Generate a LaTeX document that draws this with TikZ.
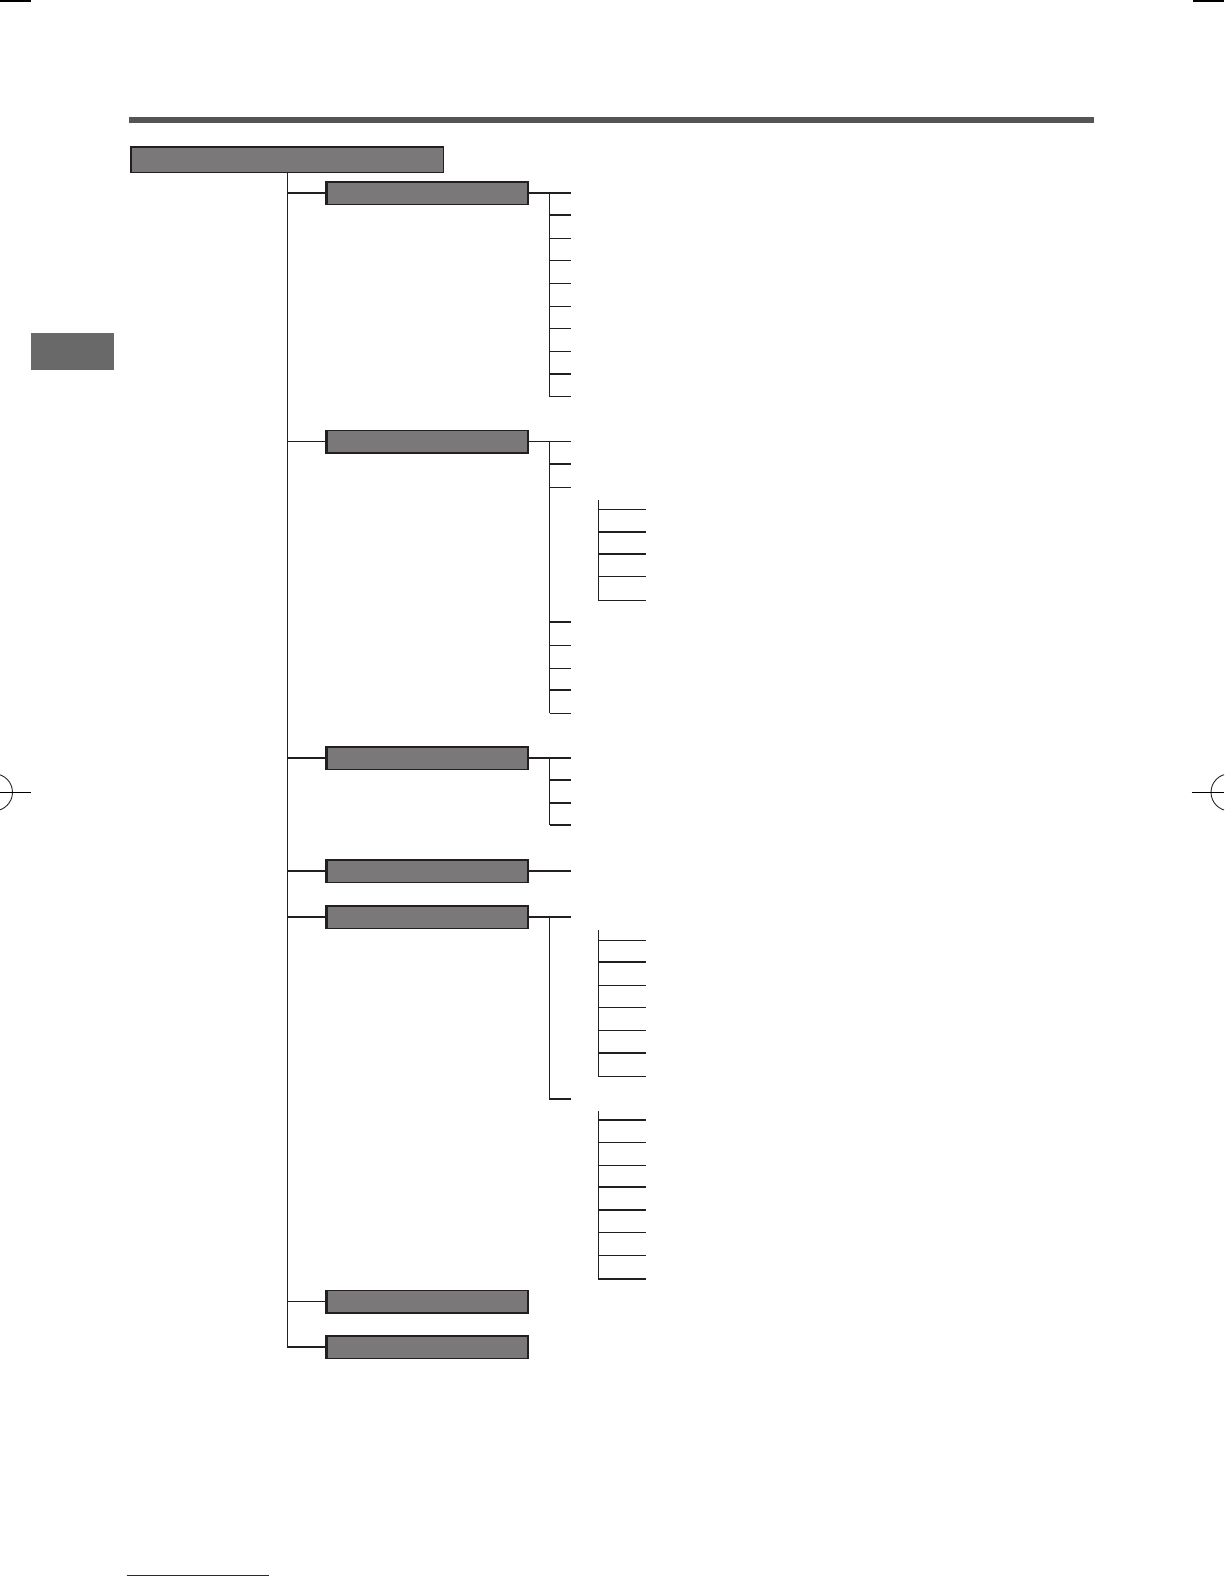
\documentclass[tikz,border=0pt]{standalone}
\definecolor{boxfill}{RGB}{122,120,121}
\definecolor{boxline}{RGB}{35,31,32}
\definecolor{barcol}{RGB}{85,85,85}
\definecolor{tabcol}{RGB}{105,105,105}
\definecolor{linkblue}{RGB}{30,30,140}
\begin{document}
\begin{tikzpicture}[x=1pt,y=-1pt,
  box/.style={draw=boxline, fill=boxfill, line width=1.5pt, minimum width=202pt, minimum height=22.5pt, inner sep=0pt, outer sep=0pt},
  conn/.style={draw=boxline, line width=1.2pt},
  heavy/.style={draw=boxline, line width=2.3pt},
  leftedge/.style={draw=boxline, line width=2.2pt},
  regmark/.style={draw=black!85, line width=0.9pt}]
\useasboundingbox (0,0) rectangle (1224,1584);
\clip (0,0) rectangle (1224,1584);

% header bar and side tab
\node[fill=barcol, minimum width=965pt, minimum height=6pt, inner sep=0pt] (topbar) at (611.5,120) {};
\node[fill=tabcol, minimum width=82.7pt, minimum height=36.7pt, inner sep=0pt] (tab) at (72.3,351.6) {};

% root box
\node[box, minimum width=313pt, minimum height=25.5pt] (main) at (287.2,159.9) {};

% level-1 boxes
\node[box] (b1) at (427,193) {};
\node[box] (b2) at (427,441.5) {};
\node[box] (b3) at (427,758) {};
\node[box] (b4) at (427,871) {};
\node[box] (b5) at (427,917) {};
\node[box] (b6) at (427,1301.5) {};
\node[box] (b7) at (427,1347) {};

% thick left edges
\foreach \n in {main,b1,b2,b3,b4,b5,b6,b7}
  \draw[leftedge] ([xshift=0.5pt]\n.north west) -- ([xshift=0.5pt]\n.south west);

% trunk
\draw[conn] (main.south) -- (main.south |- b7.west) -- (b7.west);
\foreach \n in {b1,b2,b3,b4,b5,b6}
  \draw[conn] (main.south |- \n.west) -- (\n.west);

% box 1 leaves
\foreach \y [count=\i] in {193,215,238.3,260.3,283.7,306.3,328.3,351.3,373.7,396.7} {
  \coordinate (p1-\i) at (549.7,\y);
  \coordinate (q1-\i) at (570.7,\y);
}
\foreach \i in {2,...,8,10} \draw[conn] (p1-\i) -- (q1-\i);
\draw[heavy] (p1-9) -- (q1-9);
\draw[conn] (b1.east) -- (q1-1);
\draw[conn] (p1-1) -- (p1-10);

% box 2 leaves
\foreach \y [count=\i] in {441.5,464,487.3,622,645.3,668.3,690,713.3} {
  \coordinate (p2-\i) at (549.7,\y);
  \coordinate (q2-\i) at (570.7,\y);
}
\foreach \i in {2,...,8} \draw[conn] (p2-\i) -- (q2-\i);
\draw[conn] (b2.east) -- (q2-1);
\draw[conn] (p2-1) -- (p2-8);

% box 2 sub-group
\coordinate (s1top) at (598.3,500);
\foreach \y [count=\i] in {509.3,531.7,554,576.7,600.3} {
  \coordinate (r1-\i) at (598.3,\y);
  \coordinate (t1-\i) at (646,\y);
}
\foreach \i in {1,3,4,5} \draw[conn] (r1-\i) -- (t1-\i);
\draw[heavy] (r1-2) -- (t1-2);
\draw[conn] (s1top) -- (r1-5);

% box 3 leaves
\foreach \y [count=\i] in {758,780,803,825} {
  \coordinate (p3-\i) at (549.7,\y);
  \coordinate (q3-\i) at (570.7,\y);
}
\foreach \i in {2,3,4} \draw[conn] (p3-\i) -- (q3-\i);
\draw[conn] (b3.east) -- (q3-1);
\draw[conn] (p3-1) -- (p3-4);

% box 4 leaf
\coordinate (q4-1) at (570.7,871);
\draw[conn] (b4.east) -- (q4-1);

% box 5 leaves
\coordinate (p5-1) at (549.7,917);
\coordinate (q5-1) at (570.7,917);
\coordinate (p5-2) at (549.7,1098.7);
\coordinate (q5-2) at (570.7,1098.7);
\draw[conn] (b5.east) -- (q5-1);
\draw[conn] (p5-1) -- (p5-2);
\draw[heavy] ([xshift=-0.6pt]p5-2) -- (q5-2);

% box 5 sub-group A
\coordinate (s2top) at (598.3,930);
\foreach \y [count=\i] in {940.7,962,985.3,1007.3,1030.7,1052.7,1076.7} {
  \coordinate (r2-\i) at (598.3,\y);
  \coordinate (t2-\i) at (646,\y);
}
\foreach \i in {1,...,5,7} \draw[conn] (r2-\i) -- (t2-\i);
\draw[heavy] (r2-6) -- (t2-6);
\draw[conn] (s2top) -- (r2-7);

% box 5 sub-group B
\coordinate (s3top) at (598.3,1110.7);
\foreach \y [count=\i] in {1120,1142.7,1165.3,1187.3,1210,1232.7,1255.3,1278.7} {
  \coordinate (r3-\i) at (598.3,\y);
  \coordinate (t3-\i) at (646,\y);
}
\foreach \i in {1,2,3,5,6,7} \draw[conn] (r3-\i) -- (t3-\i);
\draw[heavy] (r3-4) -- (t3-4);
\draw[heavy] ([xshift=-0.6pt]r3-8) -- (t3-8);
\draw[conn] (s3top) -- (r3-8);

% crop and registration marks
\coordinate (cm1a) at (0,1);
\coordinate (cm1b) at (31,1);
\coordinate (cm2a) at (1193,1);
\coordinate (cm2b) at (1224,1);
\draw[draw=black, line width=1.5pt] (cm1a) -- (cm1b);
\draw[draw=black, line width=1.5pt] (cm2a) -- (cm2b);
\coordinate (regL) at (-6,792.3);
\coordinate (regR) at (1229.5,792.3);
\draw[regmark] (regL) circle[radius=18.5pt];
\draw[regmark] (regR) circle[radius=18.5pt];
\coordinate (rlA) at (0,792.3);
\coordinate (rlB) at (31,792.3);
\coordinate (rrA) at (1191.7,792.3);
\coordinate (rrB) at (1224,792.3);
\draw[draw=black, line width=1pt] (rlA) -- (rlB);
\draw[draw=black, line width=1pt] (rrA) -- (rrB);

% footer line
\coordinate (fl1) at (126.7,1575);
\coordinate (fl2) at (269,1575);
\draw[draw=linkblue, line width=1pt] (fl1) -- (fl2);
\end{tikzpicture}
\end{document}
